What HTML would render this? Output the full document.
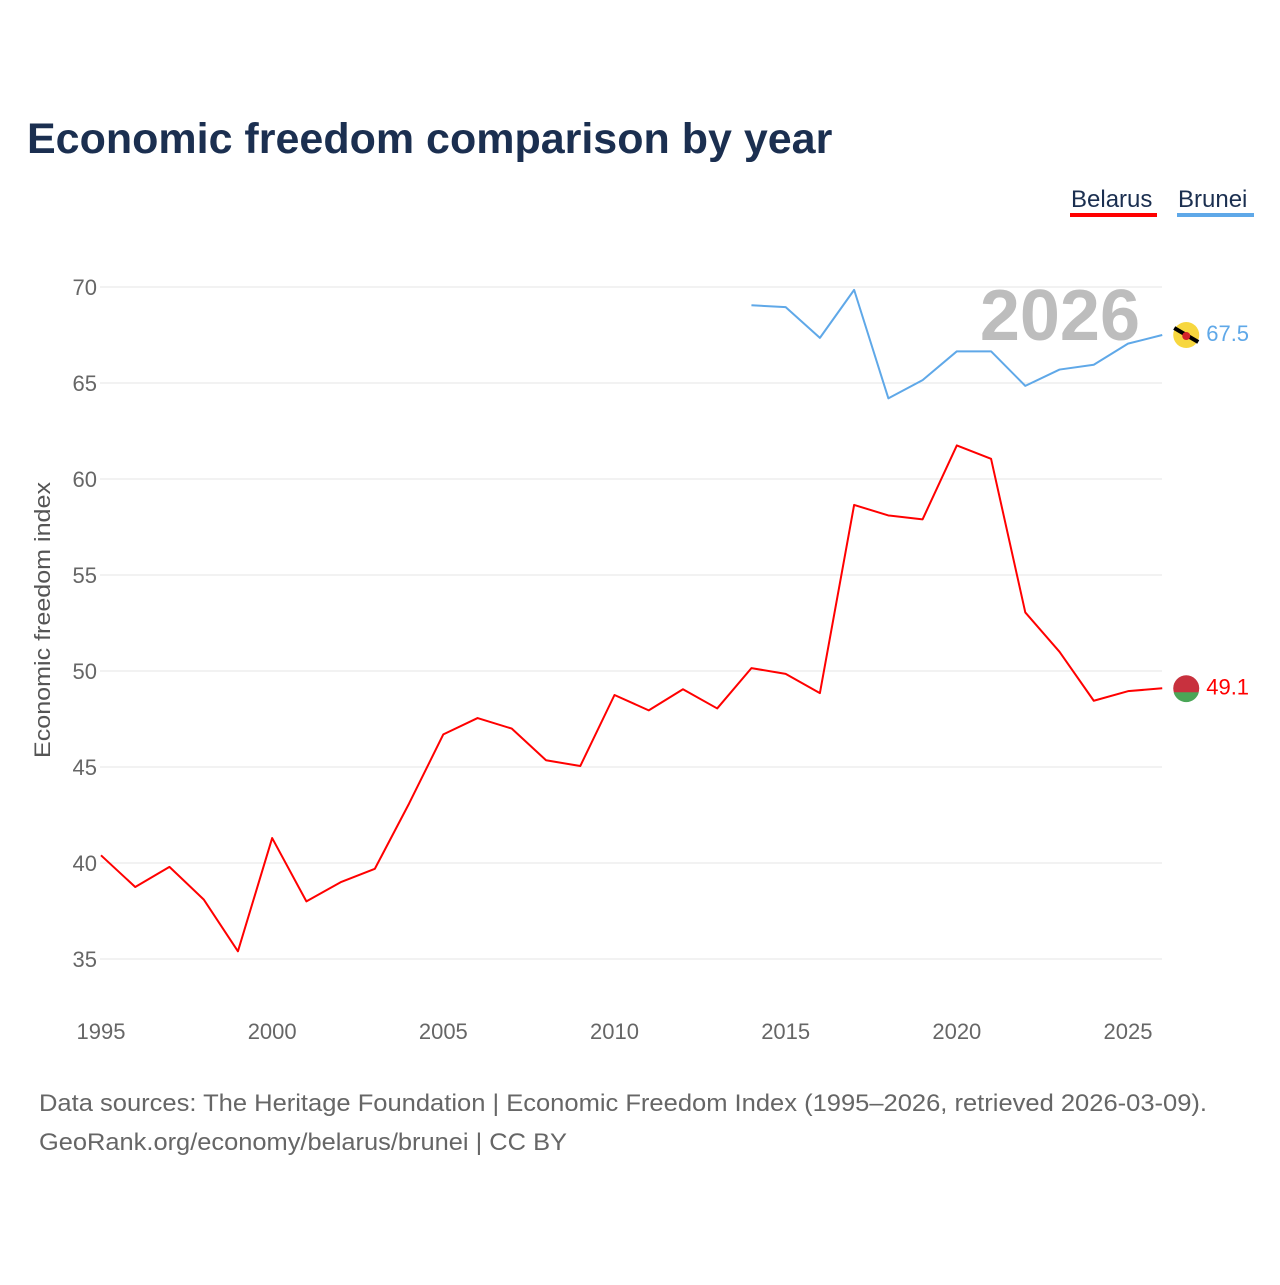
<!DOCTYPE html>
<html><head><meta charset="utf-8"><style>
body{margin:0;background:#fff;font-family:"Liberation Sans",sans-serif;}
</style></head><body>
<svg width="1280" height="1280" xmlns="http://www.w3.org/2000/svg" style="font-family:'Liberation Sans',sans-serif">
<text x="27" y="153" font-size="43" font-weight="bold" fill="#1b2f50">Economic freedom comparison by year</text>
<g>
<text x="1071" y="207" font-size="24" fill="#1b2f50">Belarus</text>
<rect x="1070" y="213" width="87" height="4" fill="#ff0000"/>
<text x="1178" y="207" font-size="24" fill="#1b2f50">Brunei</text>
<rect x="1177" y="213" width="77" height="4" fill="#5fa8e8"/>
</g>
<g id="grid"></g>
<g id="yticks"></g>
<g id="xticks"></g>
<text x="1140" y="340" font-size="72" font-weight="bold" fill="#bdbdbd" text-anchor="end">2026</text>
<text transform="translate(50,620) rotate(-90)" font-size="22" fill="#555" text-anchor="middle" textLength="276" lengthAdjust="spacingAndGlyphs">Economic freedom index</text>
<g id="series"></g>
<text x="39" y="1111" font-size="24" fill="#666" textLength="1168" lengthAdjust="spacingAndGlyphs">Data sources: The Heritage Foundation | Economic Freedom Index (1995–2026, retrieved 2026-03-09).</text>
<text x="39" y="1150" font-size="24" fill="#666" textLength="528" lengthAdjust="spacingAndGlyphs">GeoRank.org/economy/belarus/brunei | CC BY</text>
</svg>
<script>
const belarusYears=[1995,1996,1997,1998,1999,2000,2001,2002,2003,2004,2005,2006,2007,2008,2009,2010,2011,2012,2013,2014,2015,2016,2017,2018,2019,2020,2021,2022,2023,2024,2025,2026];
const belarusValues=[40.4,38.75,39.8,38.1,35.4,41.3,38.0,39.0,39.7,43.1,46.7,47.55,47.0,45.35,45.05,48.75,47.95,49.05,48.05,50.15,49.85,48.85,58.65,58.1,57.9,61.75,61.05,53.05,51.0,48.45,48.95,49.1];
const bruneiYears=[2014,2015,2016,2017,2018,2019,2020,2021,2022,2023,2024,2025,2026];
const bruneiValues=[69.05,68.95,67.35,69.85,64.2,65.15,66.65,66.65,64.85,65.7,65.95,67.05,67.5];
const yTicks=[35,40,45,50,55,60,65,70];
const xTicks=[1995,2000,2005,2010,2015,2020,2025];
const NS="http://www.w3.org/2000/svg";
const X=y=>101+(y-1995)*(1128-101)/30;
const Y=v=>959-(v-35)*(959-287)/35;
function mk(tag,attrs,parent){const e=document.createElementNS(NS,tag);for(const k in attrs)e.setAttribute(k,attrs[k]);document.getElementById(parent).appendChild(e);return e;}
yTicks.forEach(t=>{
 const l=mk('line',{x1:100,x2:1162,y1:Y(t),y2:Y(t),stroke:'#e6e6e6','stroke-width':1},'grid');
 
 
 const tx=mk('text',{x:97,y:Y(t)+8,'font-size':22,fill:'#666','text-anchor':'end'},'yticks');
 tx.textContent=t;
 
 
});
xTicks.forEach(t=>{
 const tx=mk('text',{x:X(t),y:1039,'font-size':22,fill:'#666','text-anchor':'middle'},'xticks');
 tx.textContent=t;
 
 
});
function line(years,vals,color,name){
 const p=mk('polyline',{points:years.map((y,i)=>X(y)+','+Y(vals[i])).join(' '),fill:'none',stroke:color,'stroke-width':2,'stroke-linejoin':'round'},'series');
 
 
 const ly=years[years.length-1],lv=vals[vals.length-1];
 const c=mk('circle',{cx:X(ly)+24,cy:Y(lv),r:13,fill:name==='belarus'?'#c8313e':'#f7d73f'},'series');
 
 
 const t=mk('text',{x:X(ly)+44,y:Y(lv)+6,'font-size':22,fill:color},'series');
 t.textContent=lv.toFixed(1);
 
 
 return Y(lv);
}
const by=line(belarusYears,belarusValues,'#ff0000','belarus');
const g=mk('path',{d:'M'+(X(2026)+11.4)+','+(by+4)+' H'+(X(2026)+36.6)+' A13,13 0 0 1 '+(X(2026)+11.4)+','+(by+4)+' Z',fill:'#4aa657'},'series');


const bry=line(bruneiYears,bruneiValues,'#5fa8e8','brunei');
const s=mk('line',{x1:X(2026)+12,y1:bry-7,x2:X(2026)+36,y2:bry+7,stroke:'#000','stroke-width':4},'series');


const e=mk('circle',{cx:X(2026)+24,cy:bry+1,r:4,fill:'#d2232a'},'series');


</script>
</body></html>
